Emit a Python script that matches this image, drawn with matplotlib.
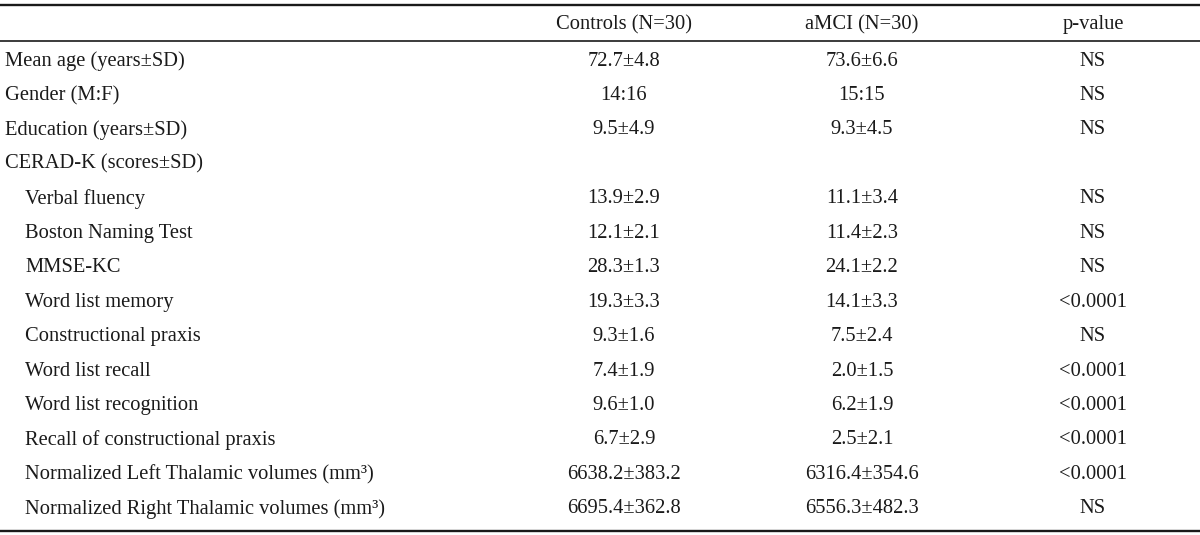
import matplotlib
matplotlib.use("Agg")
import matplotlib.pyplot as plt

plt.rcParams['font.family'] = ['Liberation Serif', 'DejaVu Serif']

# Table contents
headers = ["Controls (N=30)", "aMCI (N=30)", "p-value"]
row_labels = [
    "Mean age (years±SD)",
    "Gender (M:F)",
    "Education (years±SD)",
    "CERAD-K (scores±SD)",
    "Verbal fluency",
    "Boston Naming Test",
    "MMSE-KC",
    "Word list memory",
    "Constructional praxis",
    "Word list recall",
    "Word list recognition",
    "Recall of constructional praxis",
    "Normalized Left Thalamic volumes (mm³)",
    "Normalized Right Thalamic volumes (mm³)",
]
indented = [False, False, False, False] + [True] * 10
controls = ["72.7±4.8", "14:16", "9.5±4.9", "", "13.9±2.9", "12.1±2.1", "28.3±1.3",
            "19.3±3.3", "9.3±1.6", "7.4±1.9", "9.6±1.0", "6.7±2.9",
            "6638.2±383.2", "6695.4±362.8"]
amci = ["73.6±6.6", "15:15", "9.3±4.5", "", "11.1±3.4", "11.4±2.3", "24.1±2.2",
        "14.1±3.3", "7.5±2.4", "2.0±1.5", "6.2±1.9", "2.5±2.1",
        "6316.4±354.6", "6556.3±482.3"]
pvalues = ["NS", "NS", "NS", "", "NS", "NS", "NS", "<0.0001", "NS", "<0.0001",
           "<0.0001", "<0.0001", "<0.0001", "NS"]

W, H = 1200, 535
fig = plt.figure(figsize=(W / 100, H / 100), dpi=100)
ax = fig.add_axes([0, 0, 1, 1])
ax.set_xlim(0, W)
ax.set_ylim(H, 0)
ax.axis("off")

col_x = [624, 862, 1093]
fs = 14.8
color = "#1a1a1a"

# rules
ax.plot([0, W], [4.5, 4.5], color=color, lw=1.7, solid_capstyle="butt")
ax.plot([0, W], [41, 41], color=color, lw=1.2, solid_capstyle="butt")
ax.plot([0, W], [530.5, 530.5], color=color, lw=1.7, solid_capstyle="butt")

for x, h in zip(col_x, headers):
    ax.text(x, 24.5, h, ha="center", va="center", fontsize=fs, color=color)

y0, dy = 61, 34.45
for i, label in enumerate(row_labels):
    y = y0 + i * dy
    ax.text(25 if indented[i] else 5, y, label, ha="left", va="center",
            fontsize=fs, color=color)
    for x, val in zip(col_x, (controls[i], amci[i], pvalues[i])):
        ax.text(x, y, val, ha="center", va="center", fontsize=fs, color=color)

fig.savefig("out.png", dpi=100)
